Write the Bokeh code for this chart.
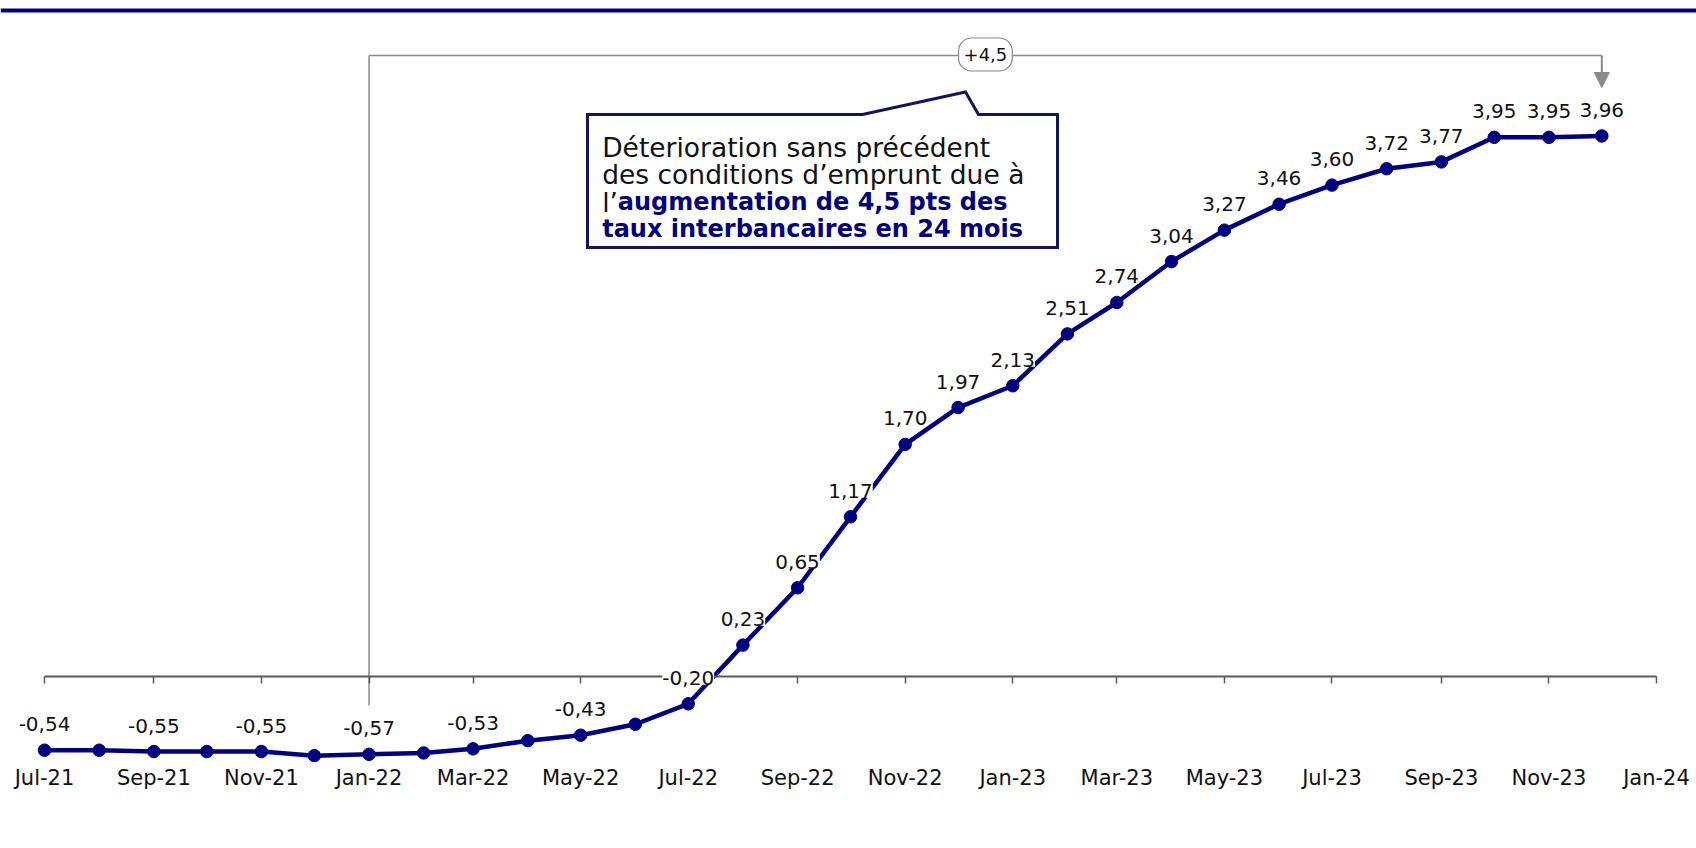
import datetime as dt
from bokeh.plotting import figure
from bokeh.core.properties import value
from bokeh.models import (ColumnDataSource, LabelSet, Label, Range1d, DatetimeAxis,
                          FixedTicker, DatetimeTickFormatter, BoxAnnotation, Arrow, NormalHead)
from bokeh.embed import file_html
from bokeh.resources import INLINE

# ---------------- data ----------------
months = ["2021-07-01", "2021-08-01", "2021-09-01", "2021-10-01", "2021-11-01", "2021-12-01",
          "2022-01-01", "2022-02-01", "2022-03-01", "2022-04-01", "2022-05-01", "2022-06-01",
          "2022-07-01", "2022-08-01", "2022-09-01", "2022-10-01", "2022-11-01", "2022-12-01",
          "2023-01-01", "2023-02-01", "2023-03-01", "2023-04-01", "2023-05-01", "2023-06-01",
          "2023-07-01", "2023-08-01", "2023-09-01", "2023-10-01", "2023-11-01", "2023-12-01"]
values = [-0.54, -0.54, -0.55, -0.55, -0.55, -0.58,
          -0.57, -0.56, -0.53, -0.47, -0.43, -0.35,
          -0.20, 0.23, 0.65, 1.17, 1.70, 1.97,
          2.13, 2.51, 2.74, 3.04, 3.27, 3.46,
          3.60, 3.72, 3.77, 3.95, 3.95, 3.96]
point_labels = ["-0,54", "", "-0,55", "", "-0,55", "",
                "-0,57", "", "-0,53", "", "-0,43", "",
                "-0,20", "0,23", "0,65", "1,17", "1,70", "1,97",
                "2,13", "2,51", "2,74", "3,04", "3,27", "3,46",
                "3,60", "3,72", "3,77", "3,95", "3,95", "3,96"]
tick_dates = ["2021-07-01", "2021-09-01", "2021-11-01", "2022-01-01", "2022-03-01", "2022-05-01",
              "2022-07-01", "2022-09-01", "2022-11-01", "2023-01-01", "2023-03-01", "2023-05-01",
              "2023-07-01", "2023-09-01", "2023-11-01", "2024-01-01"]
tick_labels = ["Jul-21", "Sep-21", "Nov-21", "Jan-22", "Mar-22", "May-22", "Jul-22", "Sep-22",
               "Nov-22", "Jan-23", "Mar-23", "May-23", "Jul-23", "Sep-23", "Nov-23", "Jan-24"]
bracket_start = "2022-01-01"
bracket_end = "2023-12-01"
bracket_text = "+4,5"
callout_lines = ["Déterioration sans précédent", "des conditions d\u2019emprunt due à", "l\u2019"]
callout_bold = ["augmentation de 4,5 pts des", "taux interbancaires en 24 mois"]

# ---------------- styling / layout helpers ----------------
NAVY = "#000080"
BOX_LINE = "#14145e"
GREY = "#8a8a8a"
AXIS = "#595959"
FONT = "DejaVu Sans"

FIG_W, FIG_H = 1696, 848
EPOCH = dt.datetime(1970, 1, 1)
ORIGIN = dt.datetime.fromisoformat(tick_dates[0])
END = dt.datetime.fromisoformat(tick_dates[-1])
AX_LEFT, AX_RIGHT = 44, 1656          # px of first/last tick
PX_PER_DAY = (AX_RIGHT - AX_LEFT) / (END - ORIGIN).days
ZERO_Y, PX_PER_UNIT = 676, 136.5      # px of value 0, px per unit


def ms(d):
    return (d - EPOCH).total_seconds() * 1000.0


def d_ms(s):
    return ms(dt.datetime.fromisoformat(s))


def px2x(px):
    return ms(ORIGIN + dt.timedelta(days=(px - AX_LEFT) / PX_PER_DAY))


def py2y(py):
    return (ZERO_Y - py) / PX_PER_UNIT


FRAME_TOP, FRAME_BOTTOM = 0, 762

p = figure(width=FIG_W, height=FIG_H, x_axis_type="datetime", y_axis_location=None,
           toolbar_location=None, output_backend="svg",
           x_range=Range1d(px2x(0), px2x(FIG_W)),
           y_range=Range1d(py2y(FRAME_BOTTOM), py2y(FRAME_TOP)),
           min_border_left=0, min_border_right=0, min_border_top=0,
           min_border_bottom=FIG_H - (FRAME_BOTTOM - FRAME_TOP))
p.outline_line_color = None
p.grid.visible = False
p.background_fill_color = "white"
p.border_fill_color = "white"

tick_ms = [d_ms(t) for t in tick_dates]

# label axis (bottom)
lab_ax = p.xaxis[0]
lab_ax.ticker = FixedTicker(ticks=tick_ms)
lab_ax.formatter = DatetimeTickFormatter(years="%b-%y", months="%b-%y", days="%b-%y")
lab_ax.major_label_overrides = dict(zip(tick_ms, tick_labels))
lab_ax.axis_line_color = None
lab_ax.major_tick_line_color = None
lab_ax.minor_tick_line_color = None
lab_ax.major_tick_in = 0
lab_ax.major_tick_out = 0
lab_ax.major_label_standoff = 3
lab_ax.major_label_text_font = FONT
lab_ax.major_label_text_font_size = "21px"
lab_ax.major_label_text_color = "#111111"

# zero line axis
zero_ax = DatetimeAxis(fixed_location=0, ticker=FixedTicker(ticks=tick_ms),
                       bounds=(tick_ms[0], tick_ms[-1]),
                       axis_line_color=AXIS, axis_line_width=2,
                       major_tick_line_color=AXIS, major_tick_line_width=1.5,
                       major_tick_in=0, major_tick_out=7,
                       minor_tick_line_color=None,
                       major_label_overrides={t: "" for t in tick_ms})
p.add_layout(zero_ax, "below")

# top bar
p.add_layout(BoxAnnotation(top=py2y(8), bottom=py2y(12), fill_color=NAVY, fill_alpha=1.0,
                           line_alpha=0))

# bracket
bx0, bx1 = d_ms(bracket_start), d_ms(bracket_end)
y_br = py2y(55)
p.segment(x0=[bx0, bx0], y0=[py2y(705), y_br], x1=[bx0, bx1], y1=[y_br, y_br],
          line_color=GREY, line_width=1.5)
p.add_layout(Arrow(end=NormalHead(size=15, fill_color=GREY, line_color=GREY),
                   x_start=bx1, y_start=y_br, x_end=bx1, y_end=py2y(87),
                   line_color=GREY, line_width=2))
p.add_layout(Label(x=(bx0 + bx1) / 2, y=py2y(54), text=bracket_text, text_align="center",
                   text_baseline="middle", text_font=FONT, text_font_size="18px",
                   text_color="#111111", background_fill_color="white",
                   border_line_color=GREY, border_line_width=1.2, border_radius=13,
                   padding=(5, 10)))

# callout box
box = [(587, 114), (862, 114), (965, 91.5), (978, 114), (1057, 114), (1057, 247), (587, 247)]
p.patch(x=[px2x(a) for a, b in box], y=[py2y(b) for a, b in box],
        fill_color="white", line_color=BOX_LINE, line_width=3, line_join="miter")
base_y = [146.7, 174.3, 201.7, 228.3]
TX = 601.7
for i, t in enumerate(callout_lines):
    p.add_layout(Label(x=px2x(TX), y=py2y(base_y[i]), text=t, text_font=FONT,
                       text_font_size="26.5px", text_color="#111111",
                       text_baseline="alphabetic", text_align="left"))
p.add_layout(Label(x=px2x(TX), y=py2y(base_y[2]), x_offset=15.5, text=callout_bold[0],
                   text_font=FONT, text_font_size="24px", text_font_style="bold",
                   text_color=NAVY, text_baseline="alphabetic", text_align="left"))
p.add_layout(Label(x=px2x(TX), y=py2y(base_y[3]), text=callout_bold[1],
                   text_font=FONT, text_font_size="24px", text_font_style="bold",
                   text_color=NAVY, text_baseline="alphabetic", text_align="left"))

# data series
xs = [dt.datetime.fromisoformat(m) for m in months]
src = ColumnDataSource(dict(x=xs, y=values))
p.line("x", "y", source=src, line_color=NAVY, line_width=4.5)
p.scatter("x", "y", source=src, size=12.5, fill_color=NAVY, line_color=NAVY)

idx = [i for i, l in enumerate(point_labels) if l]
lsrc = ColumnDataSource(dict(x=[xs[i] for i in idx], y=[values[i] for i in idx],
                             t=[point_labels[i] for i in idx]))
p.add_layout(LabelSet(x="x", y="y", text="t", source=lsrc, y_offset=26,
                      text_align="center", text_baseline="middle",
                      text_font=value(FONT), text_font_size=value("20px"),
                      text_color="#111111", background_fill_color="white"))

open("out.html", "w").write(file_html(p, INLINE))
